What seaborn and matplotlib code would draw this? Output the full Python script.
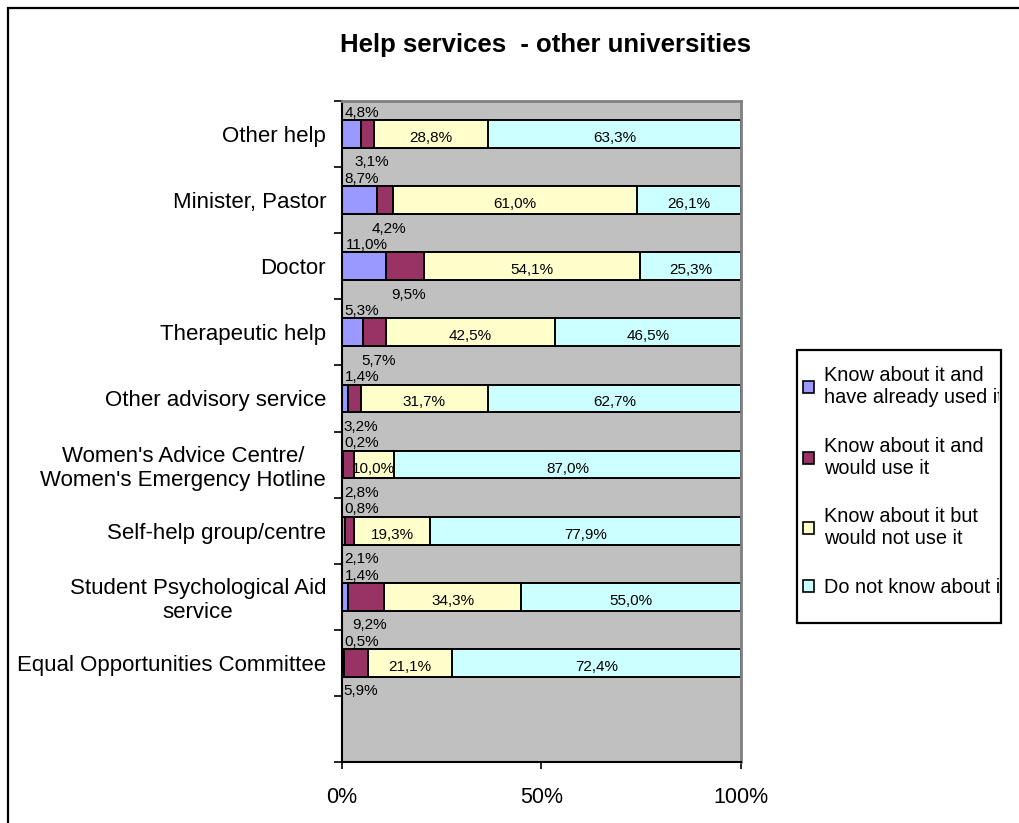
import numpy as np
import pandas as pd
import matplotlib
matplotlib.use("Agg")
import matplotlib.pyplot as plt
import seaborn as sns
from matplotlib.patches import Patch, Rectangle
from matplotlib.transforms import Bbox, TransformedBbox


categories = [
    "Other help",
    "Minister, Pastor",
    "Doctor",
    "Therapeutic help",
    "Other advisory service",
    "Women's Advice Centre/\nWomen's Emergency Hotline",
    "Self-help group/centre",
    "Student Psychological Aid\nservice",
    "Equal Opportunities Committee",
]
series_names = [
    "Know about it and\nhave already used it",
    "Know about it and\nwould use it",
    "Know about it but\nwould not use it",
    "Do not know about it",
]
used = [4.8, 8.7, 11.0, 5.3, 1.4, 0.2, 0.8, 1.4, 0.5]
would_use = [3.1, 4.2, 9.5, 5.7, 3.2, 2.8, 2.1, 9.2, 5.9]
would_not_use = [28.8, 61.0, 54.1, 42.5, 31.7, 10.0, 19.3, 34.3, 21.1]
dont_know = [63.3, 26.1, 25.3, 46.5, 62.7, 87.0, 77.9, 55.0, 72.4]
x_ticks = [0, 50, 100]
x_tick_labels = ["0%", "50%", "100%"]

colors = ["#9999FF", "#993366", "#FFFFCC", "#CCFFFF"]
W, H = 1020, 823


def fmt(v):
    return f"{v:.1f}%".replace(".", ",")


def main():
    sns.set_theme(style="white")
    plt.rcParams["font.family"] = ["Liberation Sans", "DejaVu Sans"]
    plt.rcParams["text.color"] = "black"
    plt.rcParams["xtick.color"] = "black"
    plt.rcParams["ytick.color"] = "black"

    raw = np.array([used, would_use, would_not_use, dont_know])
    share = raw / raw.sum(axis=0) * 100.0  # 100% stacked, like the original
    cum = np.cumsum(share, axis=0)
    df = pd.DataFrame({"service": categories})
    for i in range(4):
        df[f"cum{i}"] = cum[i]

    fig = plt.figure(figsize=(W / 100, H / 100), dpi=100)
    ax = fig.add_axes([342 / W, 1 - 762 / H, 399 / W, 661 / H])
    ax.set_facecolor("#C0C0C0")

    # draw the stack back to front so each segment sits on top of the next
    for i in reversed(range(4)):
        sns.barplot(data=df, x=f"cum{i}", y="service", order=categories, orient="h",
                    color=colors[i], saturation=1, width=0.42, errorbar=None,
                    edgecolor="black", linewidth=1.4, ax=ax)

    ax.set_xlim(0, 100)
    ax.set_ylim(9.5, -0.5)
    ax.set_xlabel("")
    ax.set_ylabel("")

    ax.set_xticks(x_ticks)
    ax.set_xticklabels(x_tick_labels, fontsize=15.5)
    ax.tick_params(axis="x", direction="out", length=5, width=1.2, pad=13, bottom=True)

    ax.set_yticks(np.arange(-0.5, 10, 1))
    ax.set_yticklabels([])
    ax.set_yticks(range(len(categories)), minor=True)
    ax.set_yticklabels(categories, minor=True, fontsize=16, multialignment="center")
    ax.tick_params(axis="y", which="major", direction="out", length=6, width=1.2, left=True)
    ax.tick_params(axis="y", which="minor", length=0, pad=11.5)

    for side in ["left", "bottom"]:
        ax.spines[side].set_color("black")
        ax.spines[side].set_linewidth(1.5)
    for side in ["top", "right"]:
        ax.spines[side].set_color("#808080")
        ax.spines[side].set_linewidth(2)

    # data labels
    for j in range(len(categories)):
        start = cum[:, j] - share[:, j]
        mid = start + share[:, j] / 2
        # first series above the bar, second below, like the original layout
        ax.text(max(0.6, mid[0] - 4.5), j - 0.32, fmt(raw[0, j]), ha="left", va="center",
                fontsize=11)
        ax.text(max(mid[1] + 1.0, 4.8), j + 0.43, fmt(raw[1, j]), ha="center", va="center",
                fontsize=11)
        for i in (2, 3):
            ax.text(mid[i], j + 0.06, fmt(raw[i, j]), ha="center", va="center", fontsize=11)

    fig.text(546 / W, 1 - 45 / H, "Help services  - other universities", ha="center",
             va="center", fontsize=18.5, fontweight="bold")

    # outer chart frame (right and bottom edges fall outside the picture)
    fig.add_artist(Rectangle((8 / W, -0.1), 1.2, 1.1 - 8 / H, transform=fig.transFigure,
                             fill=False, edgecolor="black", linewidth=1.6))

    # legend box
    lx0, ly0, lx1, ly1 = 797, 350, 1001, 623
    box = Rectangle((lx0 / W, 1 - ly1 / H), (lx1 - lx0) / W, (ly1 - ly0) / H,
                    transform=fig.transFigure, facecolor="white", edgecolor="black",
                    linewidth=1.6, zorder=3)
    fig.add_artist(box)
    handles = [Patch(facecolor=c, edgecolor="black", linewidth=1.2) for c in colors]
    leg = fig.legend(handles, series_names, loc="upper left",
                     bbox_to_anchor=(803 / W, 1 - 366 / H), frameon=False, fontsize=14.3,
                     handlelength=0.55, handleheight=0.55, handletextpad=0.5,
                     labelspacing=1.49, borderpad=0, borderaxespad=0)
    leg.set_zorder(4)
    clip = TransformedBbox(Bbox([[lx0 / W, 1 - ly1 / H], [(lx1 - 2) / W, 1 - ly0 / H]]),
                           fig.transFigure)
    for t in leg.get_texts():
        t.set_clip_box(clip)
        t.set_clip_on(True)

    fig.savefig("out.png", dpi=100)


if __name__ == "__main__":
    main()
